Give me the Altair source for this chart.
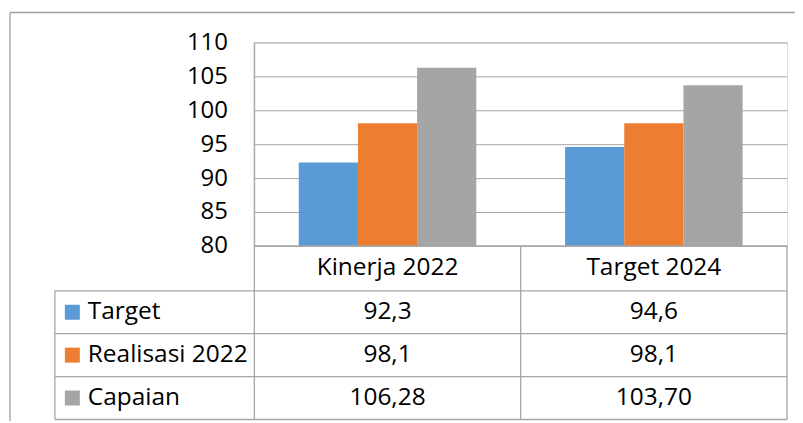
import altair as alt
import pandas as pd

# ---- data ----
categories = ["Kinerja 2022", "Target 2024"]
series = ["Target", "Realisasi 2022", "Capaian"]
target_vals = [92.3, 94.6]
realisasi_vals = [98.1, 98.1]
capaian_vals = [106.28, 103.70]
decimals = [1, 1, 2]          # decimals shown in the data table per series
colors = ["#5B9BD5", "#ED7D31", "#A5A5A5"]
y_ticks = [80, 85, 90, 95, 100, 105, 110]

rows = []
for s, vals, d in zip(series, [target_vals, realisasi_vals, capaian_vals], decimals):
    for c, v in zip(categories, vals):
        rows.append({"category": c, "series": s, "value": v, "dec": d})
df = pd.DataFrame(rows)
series_df = pd.DataFrame({"series": series})
cat_df = pd.DataFrame({"category": categories})

FONT = "Open Sans"
FS = 24.5
LINE = "#A6A6A6"
W, H = 534, 204

x_scale = alt.Scale(domain=categories, paddingInner=0, paddingOuter=0)
row_scale = alt.Scale(domain=series, type="point", range=[270.5, 356.5], padding=0)
color_scale = alt.Scale(domain=series, range=colors)

bars = alt.Chart(df).mark_bar().encode(
    x=alt.X("category:N", scale=x_scale, sort=categories, axis=None),
    xOffset=alt.XOffset("series:N", sort=series,
                        scale=alt.Scale(domain=series, paddingInner=0, paddingOuter=0.75)),
    y=alt.Y("value:Q", scale=alt.Scale(domain=[80, 110], zero=False, nice=False),
            axis=alt.Axis(values=y_ticks, title=None, grid=True, gridColor=LINE,
                          gridWidth=1, domain=False, ticks=False, tickSize=0,
                          labelPadding=27, labelFont=FONT, labelFontSize=24,
                          labelColor="black")),
    y2=alt.datum(80),
    color=alt.Color("series:N", scale=color_scale, legend=None),
)

header = alt.Chart(cat_df).mark_text(font=FONT, fontSize=FS, color="black",
                                     align="center", baseline="middle").encode(
    x=alt.X("category:N", scale=x_scale, sort=categories, axis=None),
    y=alt.value(226),
    text="category:N",
)

cells = alt.Chart(df).transform_calculate(
    label="replace(format(datum.value, datum.dec == 2 ? '.2f' : '.1f'), '.', ',')"
).mark_text(font=FONT, fontSize=FS, color="black", align="center",
            baseline="middle").encode(
    x=alt.X("category:N", scale=x_scale, sort=categories, axis=None),
    y=alt.Y("series:N", scale=row_scale, axis=None),
    text="label:N",
)

keys = alt.Chart(series_df).mark_square(size=225, opacity=1).encode(
    x=alt.value(-182.5),
    y=alt.Y("series:N", scale=row_scale, axis=None),
    color=alt.Color("series:N", scale=color_scale, legend=None),
)

names = alt.Chart(series_df).mark_text(font=FONT, fontSize=FS, color="black",
                                       align="left", baseline="middle").encode(
    x=alt.value(-167),
    y=alt.Y("series:N", scale=row_scale, axis=None),
    text="series:N",
)


def rule(x, x2, y, y2, color=LINE, width=1.3):
    return alt.Chart(alt.Data(values=[{}])).mark_rule(color=color, strokeWidth=width).encode(
        x=alt.value(x), x2=alt.value(x2), y=alt.value(y), y2=alt.value(y2))


lines = [
    # outer chart border
    rule(-245, -245, -30, 400, color="#A0A0A0"),
    rule(-245, 542, -30, -30, color="#A0A0A0"),
    # data table grid
    rule(0, W, 204, 204),
    rule(-200, W, 249, 249),
    rule(-200, W, 292, 292),
    rule(-200, W, 335, 335),
    rule(-200, W, 378, 378),
    rule(-200, -200, 249, 378),
    rule(0, 0, 0, 378),
    rule(267, 267, 204, 378),
    rule(W, W, 204, 378),
]

chart = alt.layer(bars, header, cells, keys, names, *lines).resolve_scale(
    y="independent"
).properties(
    width=W, height=H,
    autosize=alt.AutoSizeParams(type="none"),
    padding={"left": 247, "top": 34, "right": 8, "bottom": 175},
).configure_view(stroke=None).configure(background="white")

chart.save("out.html", embed_options={"renderer": "svg", "actions": False})
